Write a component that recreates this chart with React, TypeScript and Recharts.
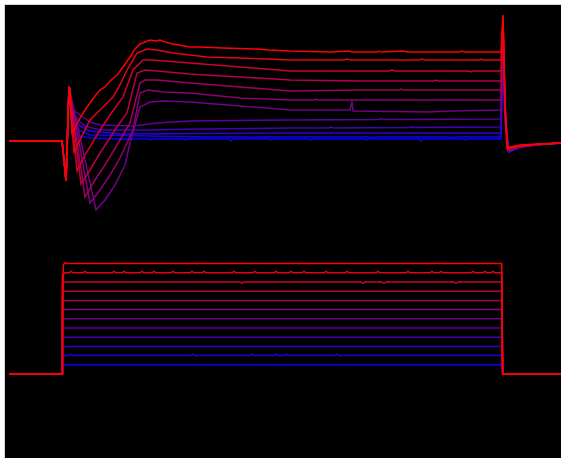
import { LineChart, Line, XAxis, YAxis } from 'recharts'

// time in ms, membrane current in pA, command voltage in mV
type Pt = [number, number]

const i0: Pt[] = [[0, 0], [5.3, 0], [5.5, -190], [5.7, -400], [6.0, 540], [6.3, 130], [7.1, 50], [8.1, 30], [11.0, 20], [11.2, 10], [11.4, 20], [14.0, 20], [14.2, 10], [14.4, 20], [17.5, 20], [17.7, 10], [17.9, 20], [22.0, 20], [22.2, 0], [22.4, 20], [26.0, 20], [26.2, 10], [26.4, 20], [30.0, 20], [30.2, 10], [30.4, 20], [35.5, 20], [35.7, 10], [35.9, 20], [41.0, 20], [41.2, 0], [41.4, 20], [45.5, 20], [45.7, 10], [45.9, 20], [49.2, 20], [49.4, 1040], [49.6, 190], [50.0, -110], [50.4, -90], [51.1, -60], [53.1, -35], [55.2, -20]]
const i1: Pt[] = [[0, 0], [5.3, 0], [5.5, -190], [5.7, -400], [6.0, 540], [6.3, 210], [7.1, 100], [8.1, 60], [20.0, 40], [24.0, 40], [24.2, 30], [24.4, 40], [28.1, 40], [36.0, 40], [36.2, 30], [36.4, 40], [44.0, 40], [44.2, 30], [44.4, 40], [49.2, 40], [49.4, 1060], [49.6, 200], [50.0, -110], [50.4, -90], [51.1, -60], [53.1, -35], [55.2, -20]]
const i2: Pt[] = [[0, 0], [5.3, 0], [5.5, -190], [5.7, -400], [6.0, 540], [6.3, 250], [7.1, 150], [8.1, 100], [11.1, 70], [28.1, 80], [49.2, 80], [49.4, 1080], [49.6, 210], [50.0, -110], [50.4, -90], [51.1, -60], [53.1, -35], [55.2, -20]]
const i3: Pt[] = [[0, 0], [5.3, 0], [5.5, -190], [5.7, -400], [6.0, 540], [6.3, 290], [6.9, 210], [7.6, 150], [9.1, 110], [14.1, 110], [19.1, 120], [28.1, 130], [32.0, 130], [32.2, 140], [32.4, 130], [40.0, 135], [40.2, 145], [40.4, 135], [49.2, 140], [49.4, 1100], [49.6, 230], [50.0, -110], [50.4, -85], [51.1, -60], [53.1, -35], [55.2, -20]]
const i4: Pt[] = [[0, 0], [5.3, 0], [5.5, -190], [5.7, -400], [6.0, 540], [6.3, 330], [6.7, 290], [7.1, 260], [8.1, 190], [9.1, 160], [12.4, 150], [14.8, 180], [18.1, 200], [28.1, 210], [37.0, 215], [37.2, 225], [37.4, 215], [49.2, 220], [49.4, 1120], [49.6, 250], [50.0, -105], [50.4, -85], [51.1, -60], [53.1, -35], [55.2, -20]]
const i5: Pt[] = [[0, 0], [5.3, 0], [5.5, -190], [5.7, -400], [6.0, 540], [8.7, -690], [9.6, -590], [10.6, -440], [11.6, -240], [12.1, -20], [13.1, 340], [14.1, 390], [15.4, 400], [18.1, 390], [23.1, 350], [28.1, 310], [34.1, 310], [34.3, 400], [34.4, 300], [42.0, 290], [44.0, 300], [49.2, 310], [49.4, 1140], [49.6, 270], [49.95, -100], [50.4, -80], [51.1, -60], [53.1, -35], [55.2, -20]]
const i6: Pt[] = [[0, 0], [5.3, 0], [5.5, -190], [5.7, -400], [6.0, 540], [8.1, -620], [9.1, -490], [10.1, -340], [11.1, -170], [12.4, 110], [13.1, 480], [13.9, 510], [15.4, 490], [18.1, 480], [23.1, 430], [28.1, 410], [30.5, 410], [30.7, 420], [30.9, 410], [49.2, 410], [49.4, 1160], [49.6, 290], [49.9, -95], [50.3, -80], [51.1, -55], [53.1, -35], [55.2, -20]]
const i7: Pt[] = [[0, 0], [5.3, 0], [5.5, -190], [5.7, -400], [6.0, 540], [7.6, -560], [8.6, -390], [9.6, -240], [11.1, 10], [12.1, 180], [13.1, 580], [13.6, 610], [14.8, 610], [18.1, 580], [23.1, 540], [28.1, 500], [35.0, 510], [39.0, 510], [39.2, 520], [39.4, 510], [49.2, 510], [49.4, 1180], [49.6, 310], [49.9, -90], [50.3, -75], [51.1, -55], [53.1, -35], [55.2, -20]]
const i8: Pt[] = [[0, 0], [5.3, 0], [5.5, -190], [5.7, -400], [6.0, 540], [7.2, -430], [8.1, -290], [9.1, -120], [10.8, 140], [11.8, 280], [12.8, 680], [13.6, 710], [14.8, 700], [18.1, 670], [23.1, 640], [28.1, 610], [35.0, 600], [42.5, 600], [42.7, 610], [42.9, 600], [49.2, 600], [49.4, 1200], [49.6, 330], [49.9, -85], [50.3, -70], [51.1, -50], [53.1, -35], [55.2, -20]]
const i9: Pt[] = [[0, 0], [5.3, 0], [5.5, -190], [5.7, -400], [6.0, 540], [6.8, -300], [7.6, -140], [9.1, 110], [10.1, 260], [11.4, 440], [12.4, 710], [13.4, 810], [14.4, 810], [18.1, 780], [23.1, 740], [28.1, 700], [38.0, 700], [38.3, 710], [38.6, 700], [46.0, 700], [46.2, 690], [46.4, 700], [49.2, 700], [49.4, 1220], [49.6, 350], [49.85, -80], [50.2, -70], [51.1, -50], [53.1, -30], [55.2, -20]]
const i10: Pt[] = [[0, 0], [5.3, 0], [5.5, -190], [5.7, -400], [6.0, 540], [6.5, -110], [7.1, 10], [8.1, 210], [9.1, 310], [10.4, 440], [11.1, 560], [11.8, 710], [12.4, 810], [12.8, 880], [13.8, 920], [14.8, 910], [16.4, 880], [19.8, 840], [23.1, 830], [28.1, 810], [33.5, 810], [33.8, 820], [34.1, 810], [41.0, 810], [41.3, 820], [41.6, 810], [47.0, 810], [47.2, 820], [47.4, 810], [49.2, 810], [49.4, 1240], [49.6, 380], [49.8, -70], [50.2, -65], [51.1, -45], [53.1, -30], [55.2, -20]]
const i11: Pt[] = [[0, 0], [5.3, 0], [5.5, -190], [5.7, -400], [6.0, 540], [6.1, 530], [6.3, 80], [6.6, 130], [7.1, 230], [7.6, 310], [8.1, 380], [8.6, 450], [9.1, 510], [9.6, 540], [10.1, 600], [10.8, 660], [11.4, 740], [12.1, 840], [12.6, 920], [13.1, 970], [13.6, 990], [14.1, 1010], [14.7, 1000], [15.1, 1010], [15.6, 990], [16.4, 970], [18.1, 940], [19.1, 940], [21.4, 930], [24.8, 920], [26.0, 910], [28.1, 900], [32.1, 890], [34.0, 900], [34.3, 890], [36.8, 890], [37.0, 900], [37.2, 890], [39.5, 900], [39.8, 890], [45.0, 890], [45.3, 900], [45.6, 890], [49.2, 890], [49.4, 1260], [49.6, 410], [49.8, -60], [50.1, -60], [51.1, -40], [53.1, -30], [55.2, -20]]

const v0: Pt[] = [[0, -80], [5.34, -80], [5.34, -72], [5.6, -70], [49.27, -70], [49.37, -80], [55.2, -80]]
const v1: Pt[] = [[0, -80], [5.34, -80], [5.34, -62], [5.6, -60], [5.9, -60], [6.1, -58.2], [6.3, -60], [18.2, -60], [18.4, -58.2], [18.6, -60], [24.1, -60], [24.3, -58.2], [24.5, -60], [26.5, -60], [26.7, -58.2], [26.9, -60], [27.5, -60], [27.7, -58.2], [27.9, -60], [32.6, -60], [32.8, -58.2], [33.0, -60], [49.27, -60], [49.37, -80], [55.2, -80]]
const v2: Pt[] = [[0, -80], [5.34, -80], [5.34, -52], [5.6, -50], [49.27, -50], [49.37, -80], [55.2, -80]]
const v3: Pt[] = [[0, -80], [5.34, -80], [5.34, -42], [5.6, -40], [49.27, -40], [49.37, -80], [55.2, -80]]
const v4: Pt[] = [[0, -80], [5.34, -80], [5.34, -32], [5.6, -30], [49.27, -30], [49.37, -80], [55.2, -80]]
const v5: Pt[] = [[0, -80], [5.34, -80], [5.34, -22], [5.6, -20], [49.27, -20], [49.37, -80], [55.2, -80]]
const v6: Pt[] = [[0, -80], [5.34, -80], [5.34, -12], [5.6, -10], [49.27, -10], [49.37, -80], [55.2, -80]]
const v7: Pt[] = [[0, -80], [5.34, -80], [5.34, -2], [5.6, 0], [49.27, 0], [49.37, -80], [55.2, -80]]
const v8: Pt[] = [[0, -80], [5.34, -80], [5.34, 8], [5.6, 10], [49.27, 10], [49.37, -80], [55.2, -80]]
const v9: Pt[] = [[0, -80], [5.34, -80], [5.34, 18], [5.6, 20], [23.1, 20], [23.3, 18.5], [23.5, 20], [35.2, 20], [35.4, 18.5], [35.6, 20], [37.3, 20], [37.5, 18.5], [37.7, 20], [44.5, 20], [44.7, 18.5], [44.9, 20], [49.27, 20], [49.37, -80], [55.2, -80]]
const v10: Pt[] = [[0, -80], [5.34, -80], [5.34, 28], [5.6, 30], [6.0, 30], [6.2, 31.5], [6.4, 30], [7.4, 30], [7.6, 31.5], [7.8, 30], [10.3, 30], [10.5, 31.5], [10.7, 30], [11.3, 30], [11.5, 31.5], [11.7, 30], [13.1, 30], [13.3, 31.5], [13.5, 30], [14.3, 30], [14.5, 31.5], [14.7, 30], [16.2, 30], [16.4, 31.5], [16.6, 30], [18.1, 30], [18.3, 31.5], [18.5, 30], [19.3, 30], [19.5, 31.5], [19.7, 30], [22.3, 30], [22.5, 31.5], [22.7, 30], [24.4, 30], [24.6, 31.5], [24.8, 30], [26.5, 30], [26.7, 31.5], [26.9, 30], [28.0, 30], [28.2, 31.5], [28.4, 30], [29.3, 30], [29.5, 31.5], [29.7, 30], [31.5, 30], [31.7, 31.5], [31.9, 30], [33.6, 30], [33.8, 31.5], [34.0, 30], [36.7, 30], [36.9, 31.5], [37.1, 30], [39.7, 30], [39.9, 31.5], [40.1, 30], [42.1, 30], [42.3, 31.5], [42.5, 30], [43.0, 30], [43.2, 31.5], [43.4, 30], [46.2, 30], [46.4, 31.5], [46.6, 30], [47.4, 30], [47.6, 31.5], [47.8, 30], [48.2, 30], [48.4, 31.5], [48.6, 30], [49.27, 30], [49.37, -80], [55.2, -80]]
const v11: Pt[] = [[0, -80], [5.34, -80], [5.43, 38.5], [5.6, 41], [5.8, 40], [49.27, 40], [49.37, -80], [55.2, -80]]

const currents = [i0, i1, i2, i3, i4, i5, i6, i7, i8, i9, i10, i11]
const voltages = [v0, v1, v2, v3, v4, v5, v6, v7, v8, v9, v10, v11]

const traceColor = (i: number) =>
    `rgb(${Math.round((255 * i) / 11)},0,${Math.round((255 * (11 - i)) / 11)})`

const toRows = (pts: Pt[]) => pts.map(([t, v]) => ({ t, v }))

function Traces({ sets, yDomain, height }: { sets: Pt[][]; yDomain: [number, number]; height: number }) {
    return (
        <LineChart width={561} height={height} margin={{ top: 0, right: 0, bottom: 0, left: 0 }}>
            <XAxis type="number" dataKey="t" domain={[-0.9, 55.2]} hide allowDataOverflow />
            <YAxis type="number" domain={yDomain} hide allowDataOverflow />
            {sets.map((s, i) => (
                <Line
                    key={i}
                    data={toRows(s)}
                    dataKey="v"
                    type="linear"
                    stroke={traceColor(i)}
                    strokeWidth={1.5}
                    dot={false}
                    activeDot={false}
                    isAnimationActive={false}
                />
            ))}
        </LineChart>
    )
}

export default function App() {
    return (
        <div style={{ position: 'fixed', left: 0, top: 0, width: 561, height: 458, overflow: 'hidden', background: '#fff' }}>
            <div
                style={{
                    position: 'absolute',
                    left: 4,
                    top: 4,
                    width: 557,
                    height: 454,
                    background: '#000',
                    borderTop: '1px solid #d6d6d6',
                    borderLeft: '1px solid #d6d6d6',
                }}
            />
            <div style={{ position: 'absolute', left: 0, top: 0 }}>
                <Traces sets={currents} yDomain={[-990, 1410]} height={240} />
            </div>
            <div style={{ position: 'absolute', left: 0, top: 240 }}>
                <Traces sets={voltages} yDomain={[-171.3, 65.65]} height={218} />
            </div>
        </div>
    )
}
